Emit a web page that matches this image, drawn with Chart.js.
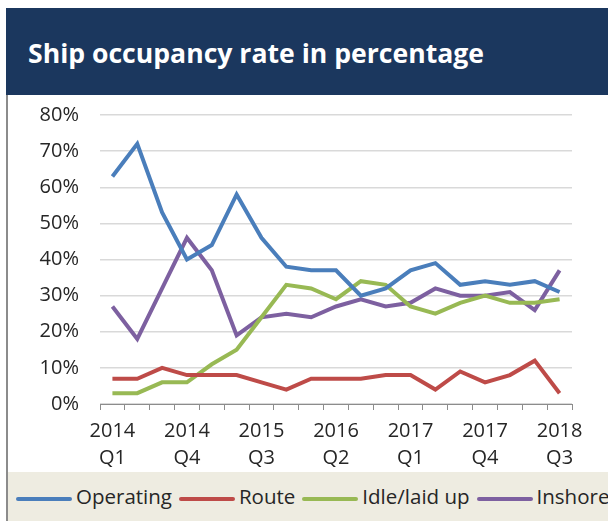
<!DOCTYPE html>
<html>
<head>
<meta charset="utf-8">
<script src="https://cdn.jsdelivr.net/npm/chart.js@4.4.1/dist/chart.umd.min.js"></script>
<style>
  html, body {
    margin: 0;
    width: 608px;
    height: 521px;
    overflow: hidden;
    background: #fff;
    font-family: "Open Sans", sans-serif;
  }
  .panel {
    position: absolute;
    left: 6px;
    top: 8px;
    width: 600px;
    height: 513px;
    border-left: 2px solid #8c8c8c;
  }
  .header {
    position: absolute;
    left: -2px;
    top: 0;
    width: 604px;
    height: 87px;
    background: #1b375e;
    color: #fff;
    font-weight: bold;
    font-size: 26.6px;
    line-height: 91px;
    padding-left: 22px;
    box-sizing: border-box;
    white-space: nowrap;
  }
  .chart-box {
    position: absolute;
    left: 0;
    top: 74px;
    width: 600px;
    height: 390px;
  }
  .legend {
    position: absolute;
    left: 0;
    top: 464px;
    width: 602px;
    height: 49px;
    background: #eeece1;
    white-space: nowrap;
    overflow: hidden;
    font-size: 20.5px;
    line-height: 49px;
    color: #262626;
    padding-left: 8px;
    box-sizing: border-box;
  }
  .legend .item { margin-right: 7px; }
  .legend .swatch {
    display: inline-block;
    width: 56px;
    height: 4px;
    vertical-align: middle;
    margin-right: 4px;
    border-radius: 2px;
  }
</style>
</head>
<body>
<div class="panel">
  <div class="header">Ship occupancy rate in percentage</div>
  <div class="chart-box"><canvas id="occupancy"></canvas></div>
  <div class="legend" id="legend"></div>
</div>
<script>
// quarterly figures, 2014 Q1 .. 2018 Q3
const quarters = [
  '2014 Q1', '2014 Q2', '2014 Q3', '2014 Q4',
  '2015 Q1', '2015 Q2', '2015 Q3', '2015 Q4',
  '2016 Q1', '2016 Q2', '2016 Q3', '2016 Q4',
  '2017 Q1', '2017 Q2', '2017 Q3', '2017 Q4',
  '2018 Q1', '2018 Q2', '2018 Q3'
];
const operating = [63, 72, 53, 40, 44, 58, 46, 38, 37, 37, 30, 32, 37, 39, 33, 34, 33, 34, 31];
const route     = [7, 7, 10, 8, 8, 8, 6, 4, 7, 7, 7, 8, 8, 4, 9, 6, 8, 12, 3];
const idle      = [3, 3, 6, 6, 11, 15, 24, 33, 32, 29, 34, 33, 27, 25, 28, 30, 28, 28, 29];
const inshore   = [27, 18, 32, 46, 37, 19, 24, 25, 24, 27, 29, 27, 28, 32, 30, 30, 31, 26, 37];
const yTicks = [0, 10, 20, 30, 40, 50, 60, 70, 80];

const seriesNames = ['Operating', 'Route', 'Idle/laid up', 'Inshore'];
const seriesColors = ['#4a7ebb', '#be4b48', '#98b954', '#7d60a0'];
const seriesValues = [operating, route, idle, inshore];

const fontFamily = '"Open Sans", sans-serif';

const datasets = seriesNames.map((name, i) => ({
    label: name,
    data: seriesValues[i],
    borderColor: seriesColors[i],
    backgroundColor: seriesColors[i],
    borderWidth: 4,
    pointRadius: 0,
    tension: 0,
    fill: false
}));

const chart = new Chart(document.getElementById('occupancy'), {
    type: 'line',
    data: { labels: quarters, datasets: datasets },
    options: {
        responsive: true,
        maintainAspectRatio: false,
        animation: false,
        layout: { padding: { top: 7, right: 36, left: 0, bottom: 0 } },
        plugins: {
            legend: { display: false },
            tooltip: { enabled: false }
        },
        scales: {
            x: {
                offset: true,
                grid: {
                    offset: true,
                    drawOnChartArea: false,
                    tickLength: 6,
                    color: '#8c8c8c'
                },
                border: { color: '#8c8c8c', width: 1 },
                ticks: {
                    autoSkip: false,
                    maxRotation: 0,
                    padding: 8,
                    color: '#262626',
                    font: { family: fontFamily, size: 20, lineHeight: 1.35 },
                    // label every third quarter, year over quarter
                    callback: (v, i) => i % 3 === 0 ? quarters[i].split(' ') : ''
                },
                afterFit: (scale) => { scale.height = 68; }
            },
            y: {
                min: yTicks[0],
                max: yTicks[yTicks.length - 1],
                afterBuildTicks: (scale) => { scale.ticks = yTicks.map(v => ({ value: v })); },
                grid: { color: '#d9d9d9', lineWidth: 1.5, drawTicks: false },
                border: { display: false },
                ticks: {
                    padding: 21,
                    color: '#262626',
                    font: { family: fontFamily, size: 20 },
                    callback: (v) => v + '%'
                },
                afterFit: (scale) => { scale.width = 92; }
            }
        }
    }
});

// legend strip under the chart
const legendEl = document.getElementById('legend');
chart.data.datasets.forEach(ds => {
    const item = document.createElement('span');
    item.className = 'item';
    const sw = document.createElement('span');
    sw.className = 'swatch';
    sw.style.background = ds.borderColor;
    item.appendChild(sw);
    item.appendChild(document.createTextNode(ds.label));
    legendEl.appendChild(item);
});
</script>
</body>
</html>
